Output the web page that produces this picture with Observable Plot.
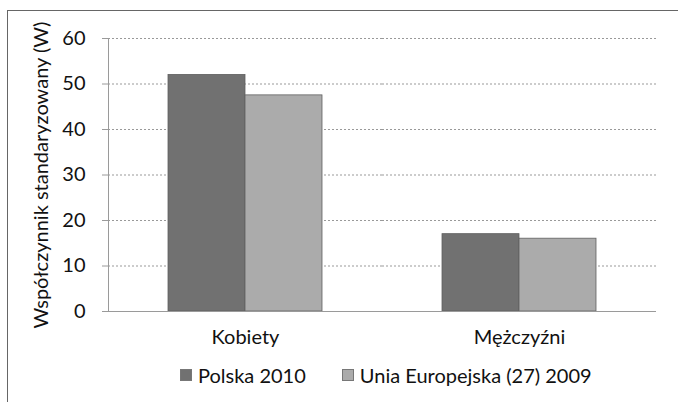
<!DOCTYPE html>
<html>
<head>
<meta charset="utf-8">
<script src="https://cdn.jsdelivr.net/npm/d3@7"></script>
<script src="https://cdn.jsdelivr.net/npm/@observablehq/plot@0.6"></script>
<style>
  html, body { margin: 0; padding: 0; background: #fff; }
  #wrap { position: relative; width: 678px; height: 402px; overflow: hidden; font-family: Lato, "Open Sans", sans-serif; color: #111; }
  #frame { position: absolute; left: 7px; top: 10px; width: 700px; height: 400px; border-top: 1.5px solid #666; border-left: 1.5px solid #666; pointer-events: none; }
  #chart svg { display: block; }
  #legend { display: flex; align-items: center; gap: 36px; padding-left: 180px; height: 40px; margin-top: 0px; font-size: 20px; }
  .item { display: flex; align-items: center; gap: 6px; }
  .sw { width: 10px; height: 10px; }
</style>
</head>
<body>
<div id="wrap">
  <div id="chart"></div>
  <div id="legend"></div>
  <div id="frame"></div>
</div>
<script>
const categories = ["Kobiety", "Mężczyźni"];
const series = ["Polska 2010", "Unia Europejska (27) 2009"];
const polska2010 = [52, 17];
const ue2009 = [47.5, 16];
const yTicks = [0, 10, 20, 30, 40, 50, 60];
const colors = ["#717171", "#ababab"];
const yTitle = "Współczynnik standaryzowany (W)";

const data = categories.flatMap((c, i) => [
  {category: c, series: series[0], value: polska2010[i]},
  {category: c, series: series[1], value: ue2009[i]}
]);

const chart = Plot.plot({
  width: 678,
  height: 355,
  marginLeft: 107,
  marginRight: 22,
  marginTop: 38,
  marginBottom: 44,
  style: {fontFamily: "Lato, 'Open Sans', sans-serif", fontSize: "17.5px", color: "#111", background: "transparent"},
  fx: {domain: categories, padding: 0, label: null},
  x: {domain: series, paddingInner: 0, paddingOuter: 0.76, axis: null},
  y: {domain: [0, 60], label: yTitle},
  color: {domain: series, range: colors},
  marks: [
    Plot.gridY(yTicks, {stroke: "#999", strokeOpacity: 1, strokeDasharray: "2,2"}),
    Plot.barY(data, {fx: "category", x: "series", y: "value", fill: "series", stroke: "#606060", strokeWidth: 0.8}),
    Plot.ruleY([0], {stroke: "#9a9a9a"}),
    Plot.frame({anchor: "left", stroke: "#9a9a9a", facetAnchor: "left"}),
    Plot.axisY(yTicks, {tickSize: 6, tickPadding: 17, stroke: "#9a9a9a", fontSize: 20, label: yTitle, labelAnchor: "center", labelArrow: "none", labelOffset: 75}),
    Plot.axisFx({anchor: "bottom", tickSize: 0, tickPadding: 18, fontSize: 20, label: null})
  ]
});
document.getElementById("chart").appendChild(chart);

const legend = document.getElementById("legend");
series.forEach((s, i) => {
  const item = document.createElement("div");
  item.className = "item";
  const sw = document.createElement("span");
  sw.className = "sw";
  sw.style.background = colors[i];
  sw.style.border = "1px solid #777";
  const t = document.createElement("span");
  t.textContent = s;
  item.appendChild(sw);
  item.appendChild(t);
  legend.appendChild(item);
});
</script>
</body>
</html>
